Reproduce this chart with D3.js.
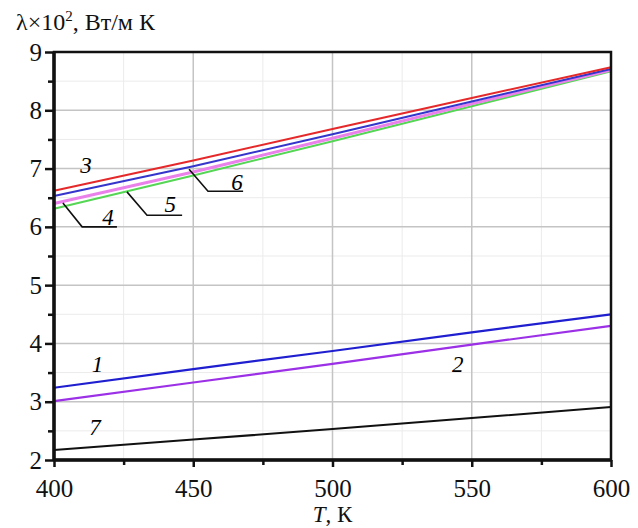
<!DOCTYPE html>
<html>
<head>
<meta charset="utf-8">
<script src="https://cdn.jsdelivr.net/npm/d3@7"></script>
<style>
  body { margin: 0; background: #fff; }
</style>
</head>
<body>
<div class="chart"></div>
<script>
// temperatures, K
var temps = [400, 450, 500, 550, 600];

// lambda x 10^2, W/(m K), one array per curve
var curve1 = [3.24, 3.56, 3.87, 4.19, 4.50];
var curve2 = [3.01, 3.33, 3.65, 3.98, 4.30];
var curve3 = [6.62, 7.14, 7.68, 8.21, 8.74];
var curve4 = [6.31, 6.88, 7.47, 8.07, 8.67];
var curve5 = [6.40, 6.94, 7.52, 8.11, 8.69];
var curve6 = [6.53, 7.04, 7.59, 8.15, 8.71];
var curve7 = [2.17, 2.35, 2.53, 2.72, 2.91];

var xTicks = [400, 450, 500, 550, 600];
var yTicks = [2, 3, 4, 5, 6, 7, 8, 9];

// curve labels (T, lambda at text baseline)
var labelNames = ["1", "2", "3", "4", "5", "6", "7"];
var labelT = [415.6, 545, 411.5, 419.4, 441.7, 465.7, 414.7];
var labelL = [3.51, 3.51, 6.92, 6.03, 6.25, 6.63, 2.43];

// leader lines for 4, 5, 6: start on curve, bend, end
var leaderT = [[403.2, 410.1, 422.6], [426.2, 433.4, 446.0], [448.5, 455.3, 467.9]];
var leaderL = [[6.41, 6.00, 6.00], [6.60, 6.20, 6.20], [6.99, 6.61, 6.61]];

var svgWidth = 638;
var svgHeight = 528;
var serif = "Liberation Serif";

var margin = { top: 52, right: 27, bottom: 68, left: 54 };
var width = svgWidth - margin.left - margin.right;
var height = svgHeight - margin.top - margin.bottom;

var svg = d3.select(".chart")
    .append("svg")
    .attr("width", svgWidth)
    .attr("height", svgHeight)
    .attr("font-family", serif);

var chartGroup = svg.append("g")
    .attr("transform", `translate(${margin.left}, ${margin.top})`);

var xScale = d3.scaleLinear().domain([400, 600]).range([0, width]);
var yScale = d3.scaleLinear().domain([2, 9]).range([height, 0]);

// minor grid
var xMinor = d3.range(425, 600, 50);
var yMinor = d3.range(2.5, 9, 1);
chartGroup.selectAll(".gxm").data(xMinor).enter().append("line")
    .attr("x1", d => xScale(d)).attr("x2", d => xScale(d))
    .attr("y1", 0).attr("y2", height)
    .attr("stroke", "#ebebeb").attr("stroke-width", 1);
chartGroup.selectAll(".gym").data(yMinor).enter().append("line")
    .attr("x1", 0).attr("x2", width)
    .attr("y1", d => yScale(d)).attr("y2", d => yScale(d))
    .attr("stroke", "#ebebeb").attr("stroke-width", 1);

// major grid
chartGroup.selectAll(".gx").data(xTicks.slice(1, -1)).enter().append("line")
    .attr("x1", d => xScale(d)).attr("x2", d => xScale(d))
    .attr("y1", 0).attr("y2", height)
    .attr("stroke", "#c4c4c4").attr("stroke-width", 1.5);
chartGroup.selectAll(".gy").data(yTicks.slice(1, -1)).enter().append("line")
    .attr("x1", 0).attr("x2", width)
    .attr("y1", d => yScale(d)).attr("y2", d => yScale(d))
    .attr("stroke", "#c4c4c4").attr("stroke-width", 1.5);

// curves
var series = [
    { v: curve7, c: "#111111", w: 2 },
    { v: curve2, c: "#9b30e6", w: 2.2 },
    { v: curve1, c: "#1f1fd0", w: 2.2 },
    { v: curve4, c: "#55d655", w: 2 },
    { v: curve5, c: "#ea80ea", w: 3 },
    { v: curve6, c: "#3535cc", w: 2 },
    { v: curve3, c: "#e5292b", w: 2 }
];

var line = d3.line()
    .x((d, i) => xScale(temps[i]))
    .y(d => yScale(d));

series.forEach(s => {
    chartGroup.append("path")
        .datum(s.v)
        .attr("fill", "none")
        .attr("stroke", s.c)
        .attr("stroke-width", s.w)
        .attr("d", line);
});

// leaders
leaderT.forEach((ts, k) => {
    var pts = ts.map((t, i) => [xScale(t), yScale(leaderL[k][i])]);
    chartGroup.append("path")
        .attr("d", d3.line()(pts))
        .attr("fill", "none")
        .attr("stroke", "#111")
        .attr("stroke-width", 1.6);
});

// curve labels
chartGroup.selectAll(".lbl").data(labelNames).enter().append("text")
    .attr("x", (d, i) => xScale(labelT[i]))
    .attr("y", (d, i) => yScale(labelL[i]))
    .attr("text-anchor", "middle")
    .attr("font-style", "italic")
    .attr("font-size", 23)
    .text(d => d);

// axes
var botAxis = d3.axisBottom(xScale).tickValues(xTicks).tickSize(7).tickPadding(12)
    .tickFormat(d3.format("d"));
var leftAxis = d3.axisLeft(yScale).tickValues(yTicks).tickSize(9).tickPadding(3)
    .tickFormat(d3.format("d"));

chartGroup.append("g")
    .attr("transform", `translate(0, ${height})`)
    .call(d3.axisBottom(xScale).tickValues(xMinor).tickSize(5).tickFormat(""))
    .call(g => g.select(".domain").remove())
    .selectAll("line").attr("stroke", "#111").attr("stroke-width", 2.5);

chartGroup.append("g")
    .call(d3.axisLeft(yScale).tickValues(yMinor).tickSize(6).tickFormat(""))
    .call(g => g.select(".domain").remove())
    .selectAll("line").attr("stroke", "#111").attr("stroke-width", 2.5);

var xAx = chartGroup.append("g")
    .attr("transform", `translate(0, ${height})`)
    .call(botAxis);
var yAx = chartGroup.append("g")
    .call(leftAxis);

[xAx, yAx].forEach(g => {
    g.attr("font-family", serif).attr("font-size", 25);
    g.select(".domain").remove();
    g.selectAll("line").attr("stroke", "#111").attr("stroke-width", 2.5);
    g.selectAll("text").attr("fill", "#111");
});

// frame
chartGroup.append("rect")
    .attr("x", 0).attr("y", 0)
    .attr("width", width).attr("height", height)
    .attr("fill", "none")
    .attr("stroke", "#111")
    .attr("stroke-width", 2.5);
chartGroup.append("line")
    .attr("x1", 0).attr("x2", 0).attr("y1", 0).attr("y2", height)
    .attr("stroke", "#111").attr("stroke-width", 3.5);
chartGroup.append("line")
    .attr("x1", 0).attr("x2", width).attr("y1", height).attr("y2", height)
    .attr("stroke", "#111").attr("stroke-width", 3.5);

// axis titles
var xt = svg.append("text")
    .attr("x", margin.left + width / 2)
    .attr("y", 522)
    .attr("text-anchor", "middle")
    .attr("font-size", 23)
    .attr("fill", "#111");
xt.append("tspan").attr("font-style", "italic").text("T");
xt.append("tspan").text(", К");

var yt = svg.append("text")
    .attr("x", 16)
    .attr("y", 30)
    .attr("font-size", 24)
    .attr("fill", "#111");
yt.append("tspan").text("λ×10");
yt.append("tspan").attr("font-size", 15).attr("dy", -9).text("2");
yt.append("tspan").attr("dy", 9).text(", Вт/м К");
</script>
</body>
</html>
